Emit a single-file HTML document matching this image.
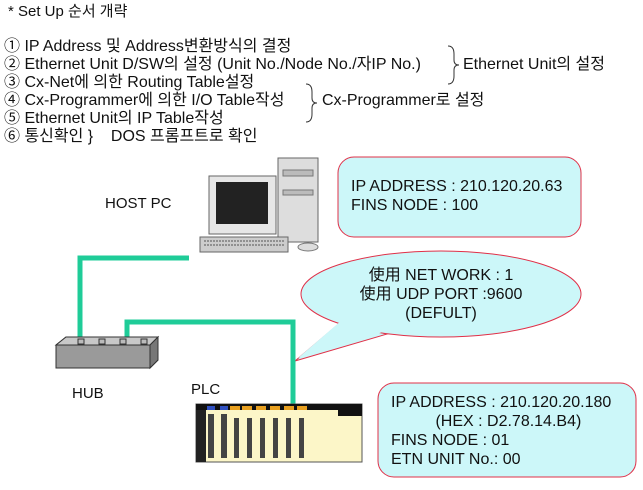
<!DOCTYPE html>
<html><head><meta charset="utf-8"><style>
body{margin:0;width:643px;height:490px;background:#fff;overflow:hidden;position:relative;font-family:"Liberation Sans","Noto Sans CJK KR",sans-serif;color:#111}
.t{position:absolute;font-size:16px;white-space:nowrap;line-height:18px}
</style></head><body>
<div class="t" style="left:8px;top:3px;font-size:15px">* Set Up 순서 개략</div>
<div class="t" style="left:4px;top:38px">① IP Address 및 Address변환방식의 결정</div>
<div class="t" style="left:4px;top:56px">② Ethernet Unit D/SW의 설정 (Unit No./Node No./자IP No.)</div>
<div class="t" style="left:4px;top:74px">③ Cx-Net에 의한 Routing Table설정</div>
<div class="t" style="left:4px;top:92px">④ Cx-Programmer에 의한 I/O Table작성</div>
<div class="t" style="left:4px;top:110px">⑤ Ethernet Unit의 IP Table작성</div>
<div class="t" style="left:4px;top:128px">⑥ 통신확인 }&nbsp;&nbsp;&nbsp; DOS 프롬프트로 확인</div>
<div class="t" style="left:463px;top:56px">Ethernet Unit의 설정</div>
<div class="t" style="left:322px;top:92px">Cx-Programmer로 설정</div>
<svg width="643" height="490" style="position:absolute;left:0;top:0">
<path d="M448 46 q6 0 6 8 v6 q0 5 5 5 q-5 0 -5 5 v6 q0 8 -6 8" fill="none" stroke="#333"/>
<path d="M306 84 q6 0 6 8 v6 q0 5 5 5 q-5 0 -5 5 v6 q0 8 -6 8" fill="none" stroke="#333"/>
<rect x="338" y="157" width="243" height="80" rx="16" fill="#ccf7f9" stroke="#e03048" stroke-width="1"/>
<rect x="378" y="383" width="258" height="94" rx="16" fill="#ccf7f9" stroke="#e03048" stroke-width="1"/>
<path d="M341 322 L295 361 L387 334 Z" fill="#ccf7f9" stroke="#e03048"/>
<ellipse cx="441" cy="294" rx="140" ry="43" fill="#ccf7f9" stroke="#e03048"/>
<path d="M342 320 L298 358 L386 331 Z" fill="#ccf7f9" stroke="none"/>
<path d="M189 258 H80 V340" fill="none" stroke="#1fcc98" stroke-width="5"/>
<path d="M127 340 V322 H293 V404" fill="none" stroke="#1fcc98" stroke-width="5"/>
<polygon points="56,345 66,337 158,337 158,360 150,368 56,368" fill="#9a9a9a" stroke="#333"/>
<polygon points="56,345 66,337 158,337 150,345" fill="#c8c8c8" stroke="#333"/>
<polygon points="150,345 158,337 158,360 150,368" fill="#777" stroke="#333"/>
<rect x="78" y="339" width="6" height="5" fill="#bbb" stroke="#333"/>
<rect x="99" y="339" width="6" height="5" fill="#bbb" stroke="#333"/>
<rect x="120" y="339" width="6" height="5" fill="#bbb" stroke="#333"/>
<rect x="141" y="339" width="6" height="5" fill="#bbb" stroke="#333"/>
<rect x="278" y="158" width="40" height="84" fill="#ddd" stroke="#666"/>
<rect x="283" y="170" width="30" height="6" fill="#bbb" stroke="#777"/>
<rect x="283" y="190" width="30" height="5" fill="#bbb" stroke="#777"/>
<rect x="209" y="176" width="67" height="58" fill="#e6e6e6" stroke="#666"/>
<rect x="216" y="182" width="52" height="42" fill="#222"/>
<rect x="200" y="237" width="88" height="15" fill="#ccc" stroke="#666"/>
<path d="M204 241 H284 M204 245 H284" stroke="#555" stroke-dasharray="2 1"/>
<ellipse cx="308" cy="247" rx="10" ry="4" fill="#ddd" stroke="#777"/>
<rect x="196" y="404" width="166" height="58" fill="#fcf6c8" stroke="#555"/>
<rect x="196" y="404" width="10" height="58" fill="#222"/>
<rect x="196" y="404" width="166" height="6" fill="#111"/>
<g fill="#e8a020"><rect x="230" y="406" width="10" height="4"/><rect x="242" y="406" width="10" height="4"/><rect x="256" y="406" width="10" height="4"/><rect x="270" y="406" width="10" height="4"/><rect x="284" y="406" width="10" height="4"/><rect x="297" y="406" width="10" height="4"/></g>
<g fill="#3050c0"><rect x="207" y="406" width="8" height="4"/><rect x="220" y="406" width="8" height="4"/></g>
<g fill="#444"><rect x="208" y="414" width="6" height="44"/><rect x="221" y="414" width="6" height="44"/><rect x="234" y="418" width="5" height="40"/><rect x="247" y="418" width="5" height="40"/><rect x="260" y="418" width="5" height="40"/><rect x="273" y="418" width="5" height="40"/><rect x="286" y="418" width="5" height="40"/><rect x="299" y="418" width="5" height="40"/></g>
<rect x="338" y="404" width="24" height="12" fill="#111"/>
</svg>
<div class="t" style="left:105px;top:195px;font-size:15px">HOST PC</div>
<div class="t" style="left:72px;top:385px;font-size:15px">HUB</div>
<div class="t" style="left:191px;top:381px;font-size:15px">PLC</div>
<div class="t" style="left:351px;top:177px;line-height:19px">IP ADDRESS : 210.120.20.63<br>FINS NODE : 100</div>
<div class="t" style="left:341px;top:266px;line-height:19px;text-align:center;width:200px">使用 NET WORK : 1<br>使用 UDP PORT :9600<br>(DEFULT)</div>
<div class="t" style="left:391px;top:393px;line-height:19px">IP ADDRESS : 210.120.20.180<br>&nbsp;&nbsp;&nbsp;&nbsp;&nbsp;&nbsp;&nbsp;&nbsp;&nbsp;&nbsp;(HEX : D2.78.14.B4)<br>FINS NODE : 01<br>ETN UNIT No.: 00</div>
</body></html>
